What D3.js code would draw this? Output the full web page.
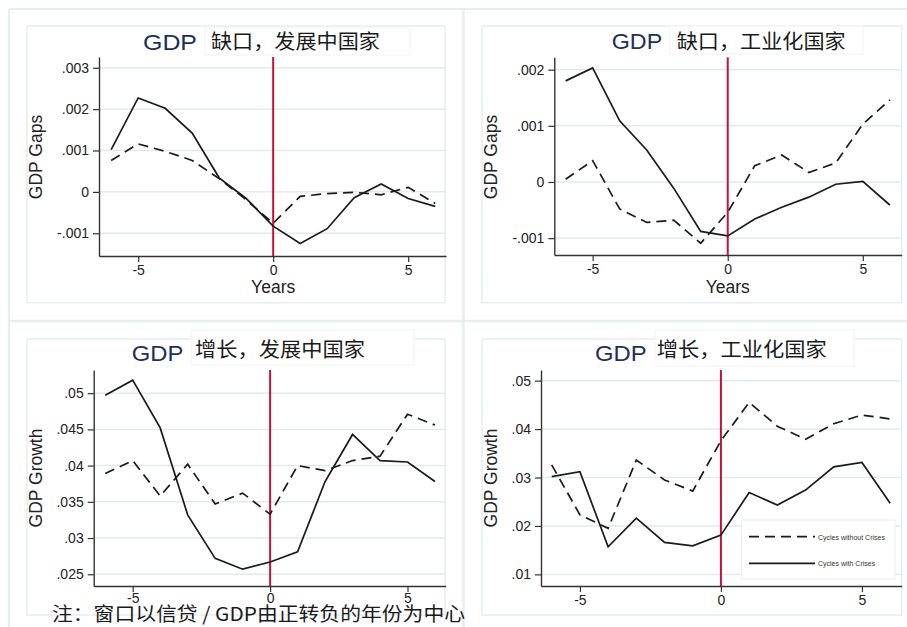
<!DOCTYPE html>
<html><head><meta charset="utf-8">
<script src="https://cdn.jsdelivr.net/npm/d3@7/dist/d3.min.js"></script>
<style>
html,body{margin:0;padding:0;background:#fff;}
svg{display:block;}
</style></head>
<body>
<svg id="chart" width="907" height="627"></svg>
<script>
// ---------------- DATA ----------------
const years = [-6,-5,-4,-3,-2,-1,0,1,2,3,4,5,6];

const gapDevWith    = [0.00102,0.00227,0.00202,0.00142,0.00034,-0.00016,-0.00083,-0.00125,-0.00089,-0.00014,0.00019,-0.00016,-0.00035];
const gapDevWithout = [0.00076,0.00116,0.00098,0.00076,0.00032,-0.00019,-0.00076,-0.00011,-0.00004,-0.00001,-0.00007,0.00011,-0.00028];

const gapIndWith    = [0.00180,0.00203,0.00109,0.00057,-0.00011,-0.00088,-0.00096,-0.00066,-0.00045,-0.00027,-0.00004,0.00001,-0.00041];
const gapIndWithout = [0.00005,0.00038,-0.00048,-0.00072,-0.00068,-0.00109,-0.00054,0.00029,0.00048,0.00017,0.00034,0.00103,0.00146];

const growthDevWith    = [0.0497,0.0518,0.0452,0.0332,0.0272,0.0257,0.0267,0.0281,0.0378,0.0443,0.0407,0.0405,0.0378];
const growthDevWithout = [0.0389,0.0407,0.0358,0.0402,0.0347,0.0362,0.0333,0.0400,0.0393,0.0407,0.0413,0.0471,0.0456];

const growthIndWith    = [0.0302,0.0312,0.0157,0.0216,0.0166,0.0159,0.0181,0.0269,0.0243,0.0274,0.0322,0.0331,0.0247];
const growthIndWithout = [0.0326,0.0223,0.0195,0.0336,0.0295,0.0272,0.0376,0.0455,0.0406,0.0379,0.0411,0.0429,0.0421];

const xTicks = [-5,0,5];
const xTickLabels = ["-5","0","5"];
const gapDevTicks = [-0.001,0,0.001,0.002,0.003];
const gapDevTickLabels = ["-.001","0",".001",".002",".003"];
const gapIndTicks = [-0.001,0,0.001,0.002];
const gapIndTickLabels = ["-.001","0",".001",".002"];
const growthDevTicks = [0.025,0.03,0.035,0.04,0.045,0.05];
const growthDevTickLabels = [".025",".03",".035",".04",".045",".05"];
const growthIndTicks = [0.01,0.02,0.03,0.04,0.05];
const growthIndTickLabels = [".01",".02",".03",".04",".05"];

const titlesCN = ["缺口，发展中国家","缺口，工业化国家","增长，发展中国家","增长，工业化国家"];
const yTitles = ["GDP Gaps","GDP Gaps","GDP Growth","GDP Growth"];
const xTitle = "Years";
const legendLabels = ["Cycles without Crises","Cycles with Crises"];
const footnote = "注：窗口以信贷 / GDP由正转负的年份为中心";

// ---------------- LAYOUT ----------------
const panels = [
  {with:gapDevWith, without:gapDevWithout, ticks:gapDevTicks, labels:gapDevTickLabels,
   xd:[-6.45,6.4], xr:[99,446], yd:[-0.00155,0.00326], yr:[256,57],
   frame:[27,26,445,302.7], tbox:[205,28,410,55],
   gdp:[143,49.5,54], cn:[211,48.5,169], ytitle:[41.5,157], xtitle:true, title:0, xpad:3},
  {with:gapIndWith, without:gapIndWithout, ticks:gapIndTicks, labels:gapIndTickLabels,
   xd:[-6.42,6.44], xr:[554.3,901.7], yd:[-0.0013,0.00222], yr:[255,57.3],
   frame:[482,26,901.7,302.7], tbox:[670,26,863,54],
   gdp:[611.7,49,50.5], cn:[676.7,48.5,169], ytitle:[497,157], xtitle:true, title:1, xpad:3},
  {with:growthDevWith, without:growthDevWithout, ticks:growthDevTicks, labels:growthDevTickLabels,
   xd:[-6.42,6.39], xr:[93.7,445.7], yd:[0.02338,0.0532], yr:[586,370],
   frame:[27,339,445,615], tbox:[191.7,330,414,365],
   gdp:[131.7,360.5,51.6], cn:[195,357,170], ytitle:[41.5,478], xtitle:false, title:2, xpad:1},
  {with:growthIndWith, without:growthIndWithout, ticks:growthIndTicks, labels:growthIndTickLabels,
   xd:[-6.38,6.41], xr:[541,901.7], yd:[0.0076,0.0522], yr:[586,370],
   frame:[482,339,901.7,615], tbox:[655,330,854,366],
   gdp:[595,360.5,51.7], cn:[656.7,357,170], ytitle:[497,478], xtitle:false, title:3, legend:true, xpad:3}
];

const svg = d3.select("#chart");
const FRAME = "#e6eef0";
const GRID = "#e2eaed";
const AXIS = "#333";
const LINE = "#1a1a1a";
const RED = "#c8103a";
const latin = "'Liberation Sans', Arial, Helvetica, sans-serif";
const cjk = "'Noto Sans CJK SC', 'Noto Sans', sans-serif";

// outer separators
svg.append("line").attr("x1",9).attr("x2",907).attr("y1",9).attr("y2",9).attr("stroke",FRAME).attr("stroke-width",2);
svg.append("line").attr("x1",9).attr("x2",9).attr("y1",9).attr("y2",627).attr("stroke",FRAME).attr("stroke-width",2);
svg.append("line").attr("x1",463.5).attr("x2",463.5).attr("y1",9).attr("y2",627).attr("stroke",FRAME).attr("stroke-width",2.5);
svg.append("line").attr("x1",9).attr("x2",907).attr("y1",321).attr("y2",321).attr("stroke",FRAME).attr("stroke-width",2.5);

panels.forEach(p => {
  const g = svg.append("g");
  const f = p.frame;
  g.append("rect").attr("x",f[0]).attr("y",f[1]).attr("width",f[2]-f[0]).attr("height",f[3]-f[1])
    .attr("fill","#fff").attr("stroke",FRAME).attr("stroke-width",1.5);

  const x = d3.scaleLinear().domain(p.xd).range(p.xr);
  const y = d3.scaleLinear().domain(p.yd).range(p.yr);

  // grid
  g.selectAll(".grid").data(p.ticks).join("line")
    .attr("x1",p.xr[0]).attr("x2",p.xr[1])
    .attr("y1",d=>y(d)).attr("y2",d=>y(d))
    .attr("stroke",GRID).attr("stroke-width",1.5);

  // title box
  const tb = p.tbox;
  g.append("rect").attr("x",tb[0]).attr("y",tb[1]).attr("width",tb[2]-tb[0]).attr("height",tb[3]-tb[1])
    .attr("fill","#fff").attr("stroke","#f1f3f4").attr("stroke-width",1);
  g.append("text").attr("x",p.gdp[0]).attr("y",p.gdp[1]).text("GDP")
    .attr("font-family",latin).attr("font-size",22).attr("fill","#1f2f5c")
    .attr("textLength",p.gdp[2]).attr("lengthAdjust","spacingAndGlyphs");
  g.append("text").attr("x",p.cn[0]).attr("y",p.cn[1]).text(titlesCN[p.title])
    .attr("font-family",cjk).attr("font-size",20).attr("fill","#1a1a1a")
    .attr("textLength",p.cn[2]).attr("lengthAdjust","spacingAndGlyphs");

  // axes
  const ya = d3.axisLeft(y).tickValues(p.ticks).tickFormat((d,i)=>p.labels[i]).tickSize(6).tickSizeOuter(0).tickPadding(4);
  const yg = g.append("g").attr("transform",`translate(${p.xr[0]},0)`).call(ya);
  const xa = d3.axisBottom(x).tickValues(xTicks).tickFormat((d,i)=>xTickLabels[i]).tickSize(6).tickSizeOuter(0).tickPadding(p.xpad);
  const xg = g.append("g").attr("transform",`translate(0,${p.yr[0]})`).call(xa);
  [yg,xg].forEach(a=>{
    a.select(".domain").attr("stroke",AXIS).attr("stroke-width",1.4);
    a.selectAll(".tick line").attr("stroke",AXIS).attr("stroke-width",1.2);
    a.selectAll(".tick text").attr("font-family",latin).attr("font-size",14).attr("fill","#222");
  });

  // red vertical line at 0
  g.append("line").attr("x1",x(0)).attr("x2",x(0)).attr("y1",p.yr[1]).attr("y2",p.yr[0])
    .attr("stroke",RED).attr("stroke-width",2);

  const line = d3.line().x((d,i)=>x(years[i])).y(d=>y(d));
  g.append("path").datum(p.without).attr("d",line).attr("fill","none")
    .attr("stroke",LINE).attr("stroke-width",1.7).attr("stroke-dasharray","10,6");
  g.append("path").datum(p.with).attr("d",line).attr("fill","none")
    .attr("stroke",LINE).attr("stroke-width",1.7);

  // axis titles
  g.append("text").attr("transform",`translate(${p.ytitle[0]},${p.ytitle[1]}) rotate(-90)`)
    .attr("text-anchor","middle").text(yTitles[p.title])
    .attr("font-family",latin).attr("font-size",17.5).attr("fill","#222");
  if (p.xtitle) {
    g.append("text").attr("x",x(0)).attr("y",293).attr("text-anchor","middle").text(xTitle)
      .attr("font-family",latin).attr("font-size",17.5).attr("fill","#222");
  }

  if (p.legend) {
    const lg = g.append("g");
    lg.append("rect").attr("x",741.7).attr("y",520).attr("width",153.3).attr("height",59)
      .attr("fill","#fff").attr("stroke","#e8eef0").attr("stroke-width",1);
    const rows = [{y:536.7, dash:"10,6"},{y:563.3, dash:null}];
    rows.forEach((r,i)=>{
      lg.append("line").attr("x1",749).attr("x2",815).attr("y1",r.y).attr("y2",r.y)
        .attr("stroke",LINE).attr("stroke-width",1.7).attr("stroke-dasharray",r.dash);
      lg.append("text").attr("x",818).attr("y",r.y+3).text(legendLabels[i])
        .attr("font-family",latin).attr("font-size",7).attr("fill","#333");
    });
  }
});

// footnote
svg.append("text").attr("x",52).attr("y",620.5).text(footnote)
  .attr("font-family",cjk).attr("font-size",19).attr("fill","#1a1a1a")
  .attr("textLength",413).attr("lengthAdjust","spacingAndGlyphs");
</script>
</body></html>
